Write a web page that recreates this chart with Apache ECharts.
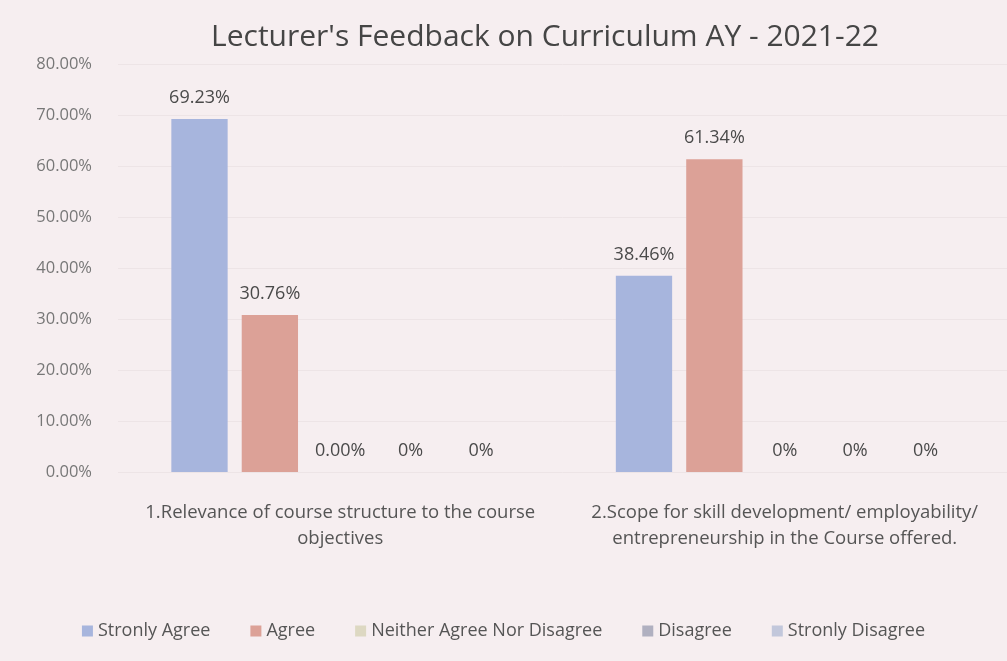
<!DOCTYPE html>
<html>
<head>
<meta charset="utf-8">
<title>Lecturer's Feedback</title>
<script src="https://cdn.jsdelivr.net/npm/echarts@6/dist/echarts.min.js"></script>
<style>
	* { margin: 0; padding: 0 }
	html, body { width: 100%; height: 100%; background: #f6eef0; }
	#main { width: 1007px; height: 661px; }
</style>
</head>
<body>
<div id="main"></div>
<script type="text/javascript">
	var categories = [
		'1.Relevance of course structure to the course\nobjectives',
		'2.Scope for skill development/ employability/\nentrepreneurship in the Course offered.'
	];
	var seriesNames = ['Stronly Agree', 'Agree', 'Neither Agree Nor Disagree', 'Disagree', 'Stronly Disagree'];
	var strongAgree = [69.23, 38.46];
	var agree = [30.76, 61.34];
	var neither = [0, 0];
	var disagree = [0, 0];
	var strongDisagree = [0, 0];
	// labels as printed on the chart
	var labelText = [
		['69.23%', '38.46%'],
		['30.76%', '61.34%'],
		['0.00%', '0%'],
		['0%', '0%'],
		['0%', '0%']
	];
	var yTicks = [0, 10, 20, 30, 40, 50, 60, 70, 80];
	var colors = ['#a7b5dd', '#dca197', '#ddd8c2', '#b0b0c0', '#c2c7db'];

	var values = [strongAgree, agree, neither, disagree, strongDisagree];
	var font = '"Open Sans", sans-serif';

	var chart = echarts.init(document.getElementById('main'));
	var series = values.map(function (d, i) {
		return {
			name: seriesNames[i],
			type: 'bar',
			data: d,
			barGap: '25%',
			barCategoryGap: '24%',
			itemStyle: { color: colors[i] },
			label: {
				show: true,
				position: 'top',
				distance: 12,
				color: '#4a4a4a',
				fontSize: 18,
				fontFamily: font,
				formatter: function (p) { return labelText[i][p.dataIndex]; }
			}
		};
	});

	chart.setOption({
		backgroundColor: '#f6eef0',
		title: {
			text: "Lecturer's Feedback on Curriculum AY - 2021-22",
			left: 540,
			textAlign: 'center',
			top: 17,
			textStyle: { color: '#454545', fontSize: 30, fontWeight: 'normal', fontFamily: font }
		},
		legend: {
			bottom: 16,
			left: 'center',
			icon: 'rect',
			itemWidth: 11,
			itemHeight: 11,
			itemGap: 40,
			textStyle: { color: '#555', fontSize: 18, fontFamily: font },
			data: seriesNames
		},
		grid: { left: 118, right: 0, top: 64, bottom: 189 },
		xAxis: {
			type: 'category',
			data: categories,
			axisLine: { show: false },
			axisTick: { show: false },
			axisLabel: {
				interval: 0,
				margin: 28,
				color: '#555',
				fontSize: 18.5,
				lineHeight: 26,
				fontFamily: font
			}
		},
		yAxis: {
			type: 'value',
			min: yTicks[0],
			max: yTicks[yTicks.length - 1],
			interval: 10,
			axisLabel: {
				color: '#777',
				fontSize: 16.5,
				margin: 26,
				fontFamily: font,
				formatter: function (v) { return v.toFixed(2) + '%'; }
			},
			splitLine: { lineStyle: { color: '#ede4e6' } }
		},
		series: series
	});
</script>
</body>
</html>
